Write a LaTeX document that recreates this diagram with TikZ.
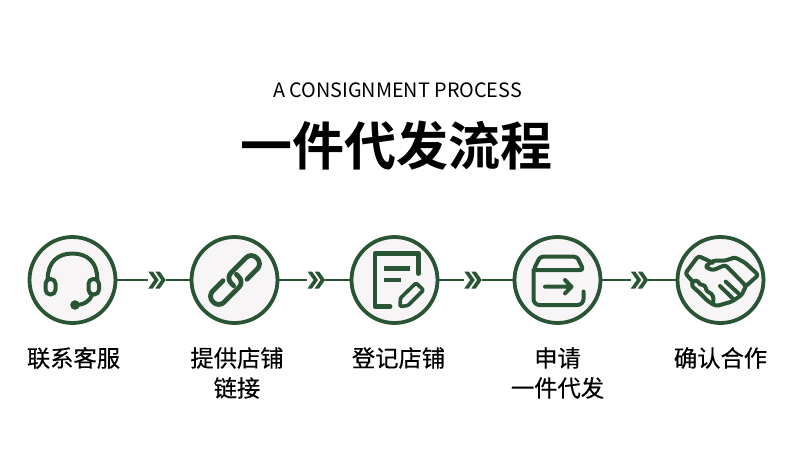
\documentclass[tikz,border=0pt]{standalone}
\usepackage{fontspec}
\setmainfont{Noto Sans CJK SC}
\newfontfamily\titlefont[BoldFont={Noto Sans CJK SC Bold}]{Noto Sans CJK SC}
\newfontfamily\labfont[FakeBold=0.35]{Noto Sans CJK SC}
\definecolor{brand}{HTML}{2A5535}
\definecolor{disc}{HTML}{F7F5F6}
\tikzset{
  stepdisc/.style={circle,draw=brand,line width=3.8pt,fill=disc,minimum size=86pt,inner sep=0pt},
  conn/.style={draw=brand,line width=2.3pt},
  chev/.style={minimum width=17.5pt,minimum height=17pt,inner sep=0pt},
  ico/.style={draw=brand,line width=4pt,line cap=round,line join=round},
  lab/.style={align=center,font=\labfont\fontsize{23.3}{30}\selectfont,text=black,inner sep=0pt}
}
\newcommand{\chevrons}[1]{%
  \foreach \d in {-8.75,-1.75}{
    \fill[brand] ([xshift=\d pt]#1.center) ++(0,-8.5) -- ++(4.5,0) -- ++(6,8.5) -- ++(-6,8.5) -- ++(-4.5,0) -- ++(6,-8.5) -- cycle;
  }}
\begin{document}
\begin{tikzpicture}[x=1pt,y=-1pt]
\useasboundingbox (0,0) rectangle (790,463);
\fill[white] (0,0) rectangle (790,463);
\node[inner sep=0pt,font=\fontsize{19.8}{20}\selectfont] (sub) at (397.5,90) {A CONSIGNMENT PROCESS};
\node[inner sep=0pt,font=\titlefont\bfseries\fontsize{52}{56}\selectfont] (title) at (396,146) {一件代发流程};
\node[stepdisc] (c1) at (72.5,280) {};
\node[stepdisc] (c2) at (234.5,280) {};
\node[stepdisc] (c3) at (394.5,280) {};
\node[stepdisc] (c4) at (557.5,280) {};
\node[stepdisc] (c5) at (720.5,280) {};
\node[chev] (a1) at (157,280) {};
\node[chev] (a2) at (316.3,280) {};
\node[chev] (a3) at (473,280) {};
\node[chev] (a4) at (639.5,280) {};
\draw[conn] (c1)--(a1); \draw[conn] (a1)--(c2);
\draw[conn] (c2)--(a2); \draw[conn] (a2)--(c3);
\draw[conn] (c3)--(a3); \draw[conn] (a3)--(c4);
\draw[conn] (c4)--(a4); \draw[conn] (a4)--(c5);
\chevrons{a1}\chevrons{a2}\chevrons{a3}\chevrons{a4}
% headset
\draw[ico] (47.7,279) .. controls (47.7,262) and (58,253.5) .. (72.5,253.5) .. controls (87,253.5) and (97.3,262) .. (97.3,279);
\draw[ico,rounded corners=4.8pt] (45.5,279) rectangle (55.5,294.5);
\draw[ico,rounded corners=4.8pt] (88.5,279) rectangle (99,294.5);
\draw[ico] (92,295) .. controls (90,301) and (84,305) .. (75,305);
\fill[brand] (75,305) circle (4.8);
% link
\foreach \r in {45,225}{
\begin{scope}[shift={(235,280)},rotate=\r]
\draw[ico,line width=4.8pt,rounded corners=7.5pt] (9,8)--(31,8)--(31,-8)--(-5,-8)--(-5,3);
\end{scope}}
% document
\draw[draw=brand,line width=4.8pt,line join=round,line cap=round] (418.5,273.5)--(418.5,253.5)--(375,253.5)--(375,306.5)--(390,306.5);
\draw[draw=brand,line width=4.8pt] (384.3,268.7)--(410,268.7);
\draw[draw=brand,line width=4.8pt] (384.3,280)--(401,280);
\draw[ico,line width=3.6pt,rounded corners=1.2pt] (400,306.5)--(400.5,298)--(416,283)--(423.5,290)--(408,305.5)--cycle;
% box
\draw[ico,rounded corners=3pt] (533.5,270)--(583.5,270)--(577,256.7)--(540,256.7)--cycle;
\draw[ico,rounded corners=6pt] (533.5,270)--(533.5,305)--(583.5,305)--(583.5,291.5);
\draw[ico] (545,286.7)--(571.5,286.7) (565,280)--(571.5,286.7)--(565,293.4);
% handshake
\begin{scope}[shift={(670,230)},xscale=1/3,yscale=1/3]
\draw[ico,rounded corners=2.5pt] (128,98)--(85,78)--(46,130)--(68,155);
\draw[ico,rounded corners=2.5pt] (68,155)--(65,168)--(80,180)--(90,190)--(100,200)--(112,212)--(127,222)--(140,228)--(185,215)--(215,195)--(228,168)--(166,105)--(128,121)--(105,110)--(130,92)--(165,92)--(195,82)--(225,98)--(265,135)--(228,168);
\draw[ico,rounded corners=2.5pt] (68,155)--(82,150)--(90,165)--(105,165)--(110,185)--(125,190)--(132,208)--(127,222);
\draw[ico] (150,168)--(188,205) (167,155)--(205,190);
\end{scope}
% labels
\node[lab] (l1) at (73.5,358) {联系客服};
\node[lab] (l2) at (237,373) {提供店铺\\链接};
\node[lab] (l3) at (398.5,358) {登记店铺};
\node[lab] (l4) at (557.5,373) {申请\\一件代发};
\node[lab] (l5) at (720.5,358) {确认合作};
\end{tikzpicture}
\end{document}
